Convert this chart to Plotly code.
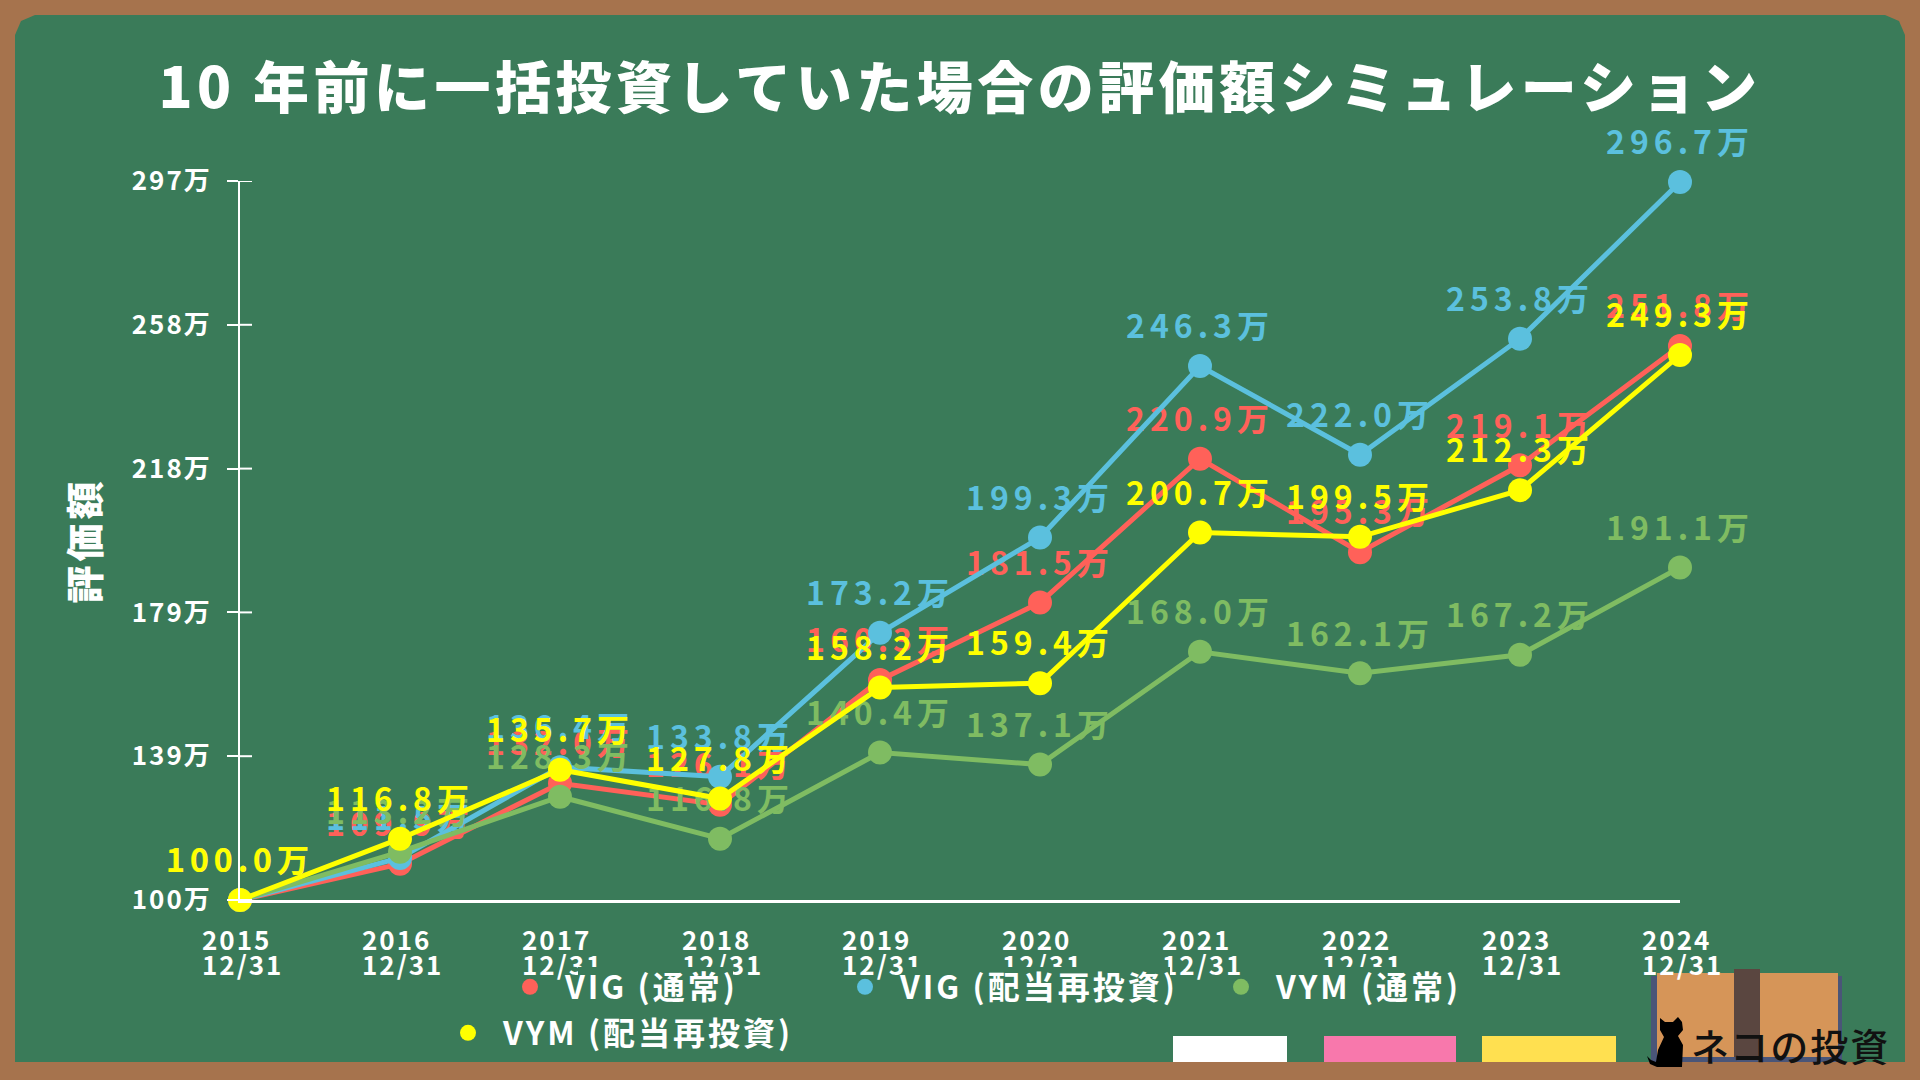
import plotly.graph_objects as go

# データ(万円)
dates = ["2015<br>12/31", "2016<br>12/31", "2017<br>12/31", "2018<br>12/31", "2019<br>12/31",
         "2020<br>12/31", "2021<br>12/31", "2022<br>12/31", "2023<br>12/31", "2024<br>12/31"]
vig = [100.0, 109.9, 132.0, 126.1, 160.3, 181.5, 220.9, 195.3, 219.1, 251.8]
vig_drip = [100.0, 111.5, 136.4, 133.8, 173.2, 199.3, 246.3, 222.0, 253.8, 296.7]
vym = [100.0, 113.2, 128.3, 116.8, 140.4, 137.1, 168.0, 162.1, 167.2, 191.1]
vym_drip = [100.0, 116.8, 135.7, 127.8, 158.2, 159.4, 200.7, 199.5, 212.3, 249.3]
y_tick_vals = [100, 139.4, 178.8, 218.2, 257.6, 297]
y_tick_text = ["100万", "139万", "179万", "218万", "258万", "297万"]

RED = "#FF6159"
BLUE = "#5BC0DE"
GREEN = "#7FBC62"
YELLOW = "#FFFF00"
BOARD = "#3A7B59"
FRAME = "#A6734D"
FONT = "Noto Sans CJK JP"

L, R, T, B = 240, 1680, 181, 900  # プロット領域(px)


def px(x):
    return (x - L) / (R - L)


def py(y):
    return (B - y) / (B - T)


def rect(x0, y0, x1, y1, color, layer="below"):
    return dict(type="rect", xref="paper", yref="paper", x0=px(x0), y0=py(y0), x1=px(x1), y1=py(y1),
                fillcolor=color, line_width=0, layer=layer)


def path(points, color):
    d = "M " + " L ".join(f"{px(x):.5f} {py(y):.5f}" for x, y in points) + " Z"
    return dict(type="path", xref="paper", yref="paper", path=d, fillcolor=color, line_width=0, layer="below")


board = [(15, 1062), (15, 35), (21, 21), (35, 15), (1885, 15), (1899, 21), (1905, 35), (1905, 1062)]
cat = [(1647, 1056), (1650, 1064), (1657, 1067), (1682, 1067), (1683, 1045), (1678, 1036), (1683, 1030),
       (1682, 1022), (1678, 1017), (1673, 1022), (1665, 1022), (1660, 1018), (1660, 1030), (1664, 1037),
       (1658, 1050), (1656, 1062), (1651, 1060)]

shapes = [
    path(board, BOARD),
    rect(1173, 1036, 1287, 1062, "#FFFFFF"),
    rect(1324, 1036, 1456, 1062, "#F878AC"),
    rect(1482, 1036, 1616, 1062, "#FFE050"),
    rect(1651, 976, 1842, 1062, "#4A5578"),
    rect(1657, 973, 1838, 1057, "#D69558"),
    rect(1734, 969, 1760, 1057, "#5A4640"),
    path(cat, "#000000"),
    # 凡例の文字の背景が目盛ラベルを隠している部分
    rect(578, 967, 733, 1005, BOARD, "above"),
    rect(905, 967, 1170, 1005, BOARD, "above"),
    rect(1275, 967, 1465, 1005, BOARD, "above"),
]
# y軸の目盛は軸の両側に出る
for v in y_tick_vals:
    shapes.append(dict(type="line", xref="paper", yref="y", x0=0, x1=px(252), y0=v, y1=v,
                       line=dict(color="white", width=2)))

fig = go.Figure()
series = [("VIG (通常)", vig, RED, "legend"),
          ("VIG (配当再投資)", vig_drip, BLUE, "legend2"),
          ("VYM (通常)", vym, GREEN, "legend3"),
          ("VYM (配当再投資)", vym_drip, YELLOW, "legend4")]

for name, values, color, leg in series:
    fig.add_trace(go.Scatter(x=dates, y=values, mode="lines+markers", cliponaxis=False, showlegend=False,
                             line=dict(color=color, width=5), marker=dict(color=color, size=24)))
    # ラベルを点から離すため、透明マーカーのトレースに文字を載せる
    fig.add_trace(go.Scatter(x=dates, y=values, mode="markers+text", cliponaxis=False, showlegend=False,
                             text=[f"{v:.1f}万" for v in values], textposition="top center",
                             textfont=dict(family=FONT, size=32, color=color, weight=700),
                             marker=dict(color="rgba(0,0,0,0)", size=30)))
    # 凡例用
    fig.add_trace(go.Scatter(x=[None], y=[None], mode="markers", name=name, legend=leg,
                             marker=dict(color=color, size=19)))


def legend_box(x, y):
    return dict(x=px(x), y=py(y), xanchor="left", yanchor="middle", bgcolor="rgba(0,0,0,0)",
                font=dict(family=FONT, size=32, color="white", weight=700),
                itemwidth=60, entrywidthmode="pixels", entrywidth=340)


fig.update_layout(
    width=1920,
    height=1080,
    margin=dict(l=L, r=1920 - R, t=T, b=1080 - B),
    paper_bgcolor=FRAME,
    plot_bgcolor="rgba(0,0,0,0)",
    hovermode=False,
    font=dict(family=FONT, color="white"),
    title=dict(text="10 年前に一括投資していた場合の評価額シミュレーション", x=0.5, xanchor="center",
               y=1 - 88 / 1080, yanchor="middle", font=dict(family=FONT, size=56, color="white", weight=900)),
    xaxis=dict(type="category", categoryorder="array", categoryarray=dates, range=[0, 9], showgrid=False,
               zeroline=False, showline=True, linecolor="white", linewidth=3, ticks="", ticklabelstandoff=16,
               tickangle=0, tickfont=dict(family=FONT, size=26, color="white", weight=700)),
    yaxis=dict(range=[100, 297], tickmode="array", tickvals=y_tick_vals, ticktext=y_tick_text, showgrid=False,
               zeroline=False, showline=True, linecolor="white", linewidth=2, ticks="outside", ticklen=11,
               tickwidth=2, tickcolor="white", ticklabelstandoff=10,
               tickfont=dict(family=FONT, size=26, color="white", weight=700),
               title=dict(text="評価額", standoff=28, font=dict(family=FONT, size=38, color="white", weight=900))),
    legend=legend_box(495, 987),
    legend2=legend_box(830, 987),
    legend3=legend_box(1206, 987),
    legend4=legend_box(433, 1033),
    shapes=shapes,
    annotations=[dict(text="ネコの投資", xref="paper", yref="paper", x=px(1790), y=py(1044), showarrow=False,
                      xanchor="center", yanchor="middle",
                      font=dict(family=FONT, size=38, color="#111111", weight=500))],
)

# plotlyに字間の指定がないので描画後にCSSで調整する
post = """
var gd = document.getElementById('{plot_id}');
var css = document.createElement('style');
css.textContent = 'body{margin:0}'
  + '.textpoint text{letter-spacing:5px}'
  + '.gtitle{letter-spacing:4.5px}'
  + '.g-ytitle text{letter-spacing:4px}'
  + '.legendtext,.legend2text,.legend3text,.legend4text{letter-spacing:3px}'
  + '.scrollbox{clip-path:none}'
  + '.xtick text,.ytick text{letter-spacing:2px}'
  + '.annotation-text{letter-spacing:2px}';
document.head.appendChild(css);
gd.querySelectorAll('.xtick text').forEach(function (t) {
  t.style.textAnchor = 'start';
  var lines = t.querySelectorAll('tspan.line');
  lines.forEach(function (s) { s.setAttribute('x', +s.getAttribute('x') - 38); });
  if (lines.length > 1) { lines[1].setAttribute('dy', '25px'); }
});
"""

fig.write_html("out.html", post_script=post, config={"displayModeBar": False})
